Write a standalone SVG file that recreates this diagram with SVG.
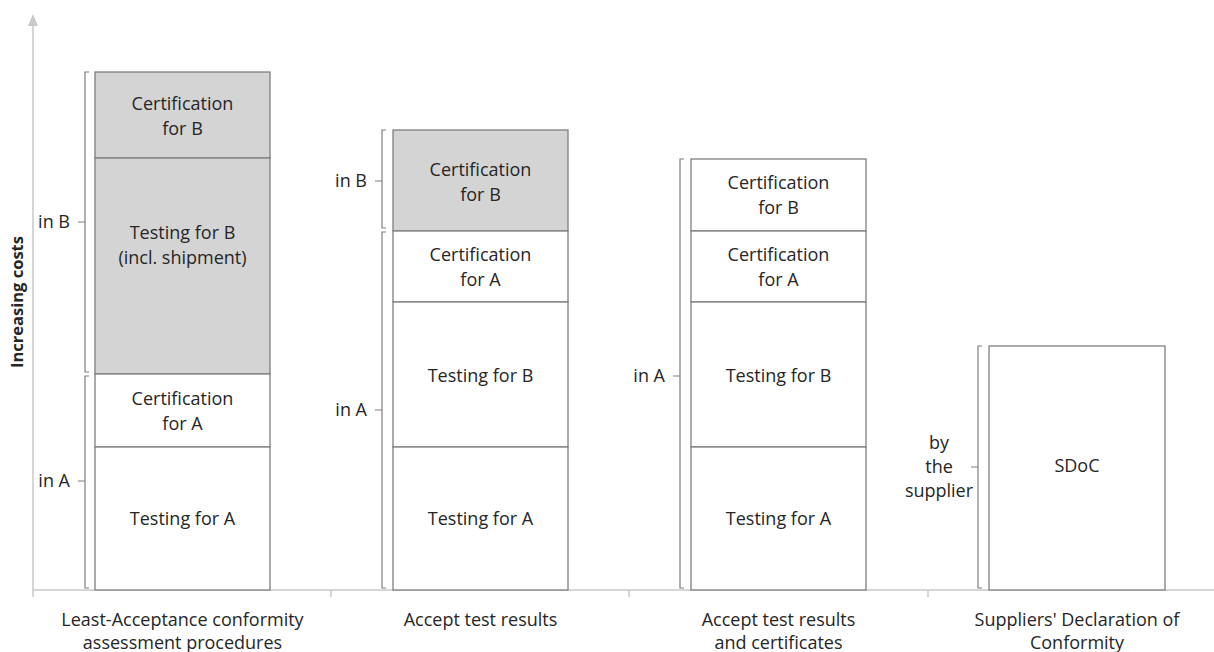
<svg xmlns="http://www.w3.org/2000/svg" width="1214" height="652" viewBox="0 0 1214 652">
<style>
.ax{stroke:#c8c8c8;stroke-width:1.5;fill:none}
.bar{stroke:#7f7f7f;stroke-width:1.3}
.w{fill:#ffffff}
.g{fill:#d4d4d4}
.br{stroke:#7f7f7f;stroke-width:1.2;fill:none}
text{font-family:"Open Sans","Liberation Sans",sans-serif;font-size:18px;fill:#262626;text-anchor:middle}
.lab{text-anchor:end}
</style>
<g id="axes">
<line class="ax" x1="33" y1="597" x2="33" y2="22"/>
<path d="M28,26 L33,14 L38,26 Z" fill="#c8c8c8"/>
<line class="ax" x1="33" y1="590" x2="1214" y2="590"/>
<line class="ax" x1="331" y1="590" x2="331" y2="597"/>
<line class="ax" x1="629" y1="590" x2="629" y2="597"/>
<line class="ax" x1="928" y1="590" x2="928" y2="597"/>
<text x="17" y="302" transform="rotate(-90 17 302)" style="font-weight:bold;font-size:16.5px" dy="6">Increasing costs</text>
</g>
<g id="col1">
<rect class="bar g" x="95" y="72" width="175" height="86"/>
<rect class="bar g" x="95" y="158" width="175" height="216"/>
<rect class="bar w" x="95" y="374" width="175" height="73"/>
<rect class="bar w" x="95" y="447" width="175" height="143"/>
<text x="182.5" y="110">Certification</text>
<text x="182.5" y="135">for B</text>
<text x="182.5" y="239">Testing for B</text>
<text x="182.5" y="264">(incl. shipment)</text>
<text x="182.5" y="405">Certification</text>
<text x="182.5" y="430">for A</text>
<text x="182.5" y="525">Testing for A</text>
<path class="br" d="M89,72 H85 V222 M78,222 H85 V372 H89"/>
<text class="lab" x="70" y="228">in B</text>
<path class="br" d="M89,376 H85 V481 M78,481 H85 V588 H89"/>
<text class="lab" x="70" y="487">in A</text>
<text x="182.5" y="626">Least-Acceptance conformity</text>
<text x="182.5" y="649">assessment procedures</text>
</g>
<g id="col2">
<rect class="bar g" x="393" y="130" width="175" height="101"/>
<rect class="bar w" x="393" y="231" width="175" height="71"/>
<rect class="bar w" x="393" y="302" width="175" height="145"/>
<rect class="bar w" x="393" y="447" width="175" height="143"/>
<text x="480.5" y="176">Certification</text>
<text x="480.5" y="201">for B</text>
<text x="480.5" y="261">Certification</text>
<text x="480.5" y="286">for A</text>
<text x="480.5" y="382">Testing for B</text>
<text x="480.5" y="525">Testing for A</text>
<path class="br" d="M386,130 H382 V181 M375,181 H382 V228 H386"/>
<text class="lab" x="367" y="187">in B</text>
<path class="br" d="M386,232 H382 V410 M375,410 H382 V588 H386"/>
<text class="lab" x="367" y="416">in A</text>
<text x="480.5" y="626">Accept test results</text>
</g>
<g id="col3">
<rect class="bar w" x="691" y="159" width="175" height="72"/>
<rect class="bar w" x="691" y="231" width="175" height="71"/>
<rect class="bar w" x="691" y="302" width="175" height="145"/>
<rect class="bar w" x="691" y="447" width="175" height="143"/>
<text x="778.5" y="189">Certification</text>
<text x="778.5" y="214">for B</text>
<text x="778.5" y="261">Certification</text>
<text x="778.5" y="286">for A</text>
<text x="778.5" y="382">Testing for B</text>
<text x="778.5" y="525">Testing for A</text>
<path class="br" d="M684,159 H680 V376 M673,376 H680 V588 H684"/>
<text class="lab" x="665" y="382">in A</text>
<text x="778.5" y="626">Accept test results</text>
<text x="778.5" y="649">and certificates</text>
</g>
<g id="col4">
<rect class="bar w" x="989" y="346" width="176" height="244"/>
<text x="1077" y="472">SDoC</text>
<path class="br" d="M982,346 H978 V467 M971,467 H978 V588 H982"/>
<text x="939" y="449">by</text>
<text x="939" y="473">the</text>
<text x="939" y="497">supplier</text>
<text x="1077" y="626">Suppliers' Declaration of</text>
<text x="1077" y="649">Conformity</text>
</g>
</svg>
